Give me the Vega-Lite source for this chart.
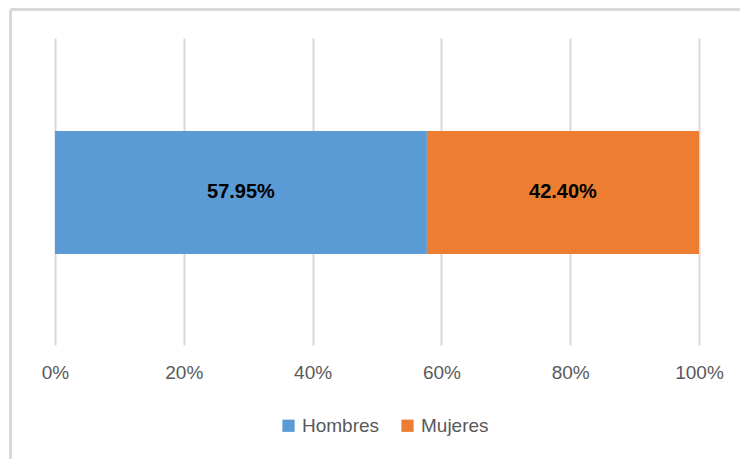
{
  "$schema": "https://vega.github.io/schema/vega-lite/v6.json",
  "width": 730,
  "height": 450,
  "padding": {"left": 10, "top": 9, "right": 0, "bottom": 0},
  "autosize": {"type": "none"},
  "background": "white",
  "config": {"view": {"stroke": null}, "font": "Liberation Sans"},
  "data": {
    "values": [
      {"categoria": "Total", "sexo": "Hombres", "porcentaje": 0.5795},
      {"categoria": "Total", "sexo": "Mujeres", "porcentaje": 0.424}
    ]
  },
  "transform": [
    {"stack": "porcentaje", "groupby": ["categoria"], "offset": "normalize", "sort": [{"field": "sexo", "order": "ascending"}], "as": ["x0", "x1"]},
    {"calculate": "(datum.x0 + datum.x1) / 2", "as": "mid"}
  ],
  "layer": [
    {
      "mark": {"type": "bar"},
      "encoding": {
        "x": {
          "field": "x0", "type": "quantitative",
          "scale": {"domain": [-0.069876, 1.063665], "nice": false, "zero": false},
          "axis": {
            "orient": "bottom", "offset": -114, "values": [0, 0.2, 0.4, 0.6, 0.8, 1], "format": ".0%",
            "domain": false, "grid": false, "ticks": true, "tickSize": -307, "tickColor": "#d9d9d9", "tickWidth": 2,
            "labelFontSize": 19, "labelColor": "#595959", "labelPadding": 325, "labelFont": "Liberation Sans",
            "labelFlush": false, "labelOverlap": false, "title": null
          }
        },
        "x2": {"field": "x1"},
        "y": {
          "field": "categoria", "type": "nominal",
          "scale": {"paddingInner": 0.5, "paddingOuter": 0.665, "align": 0.373},
          "axis": {"orient": "left", "domain": true, "domainColor": "#d9d9d9", "domainWidth": 3, "labels": false, "ticks": false, "grid": false, "title": null}
        },
        "color": {
          "field": "sexo", "type": "nominal",
          "scale": {"domain": ["Hombres", "Mujeres"], "range": ["#5B9BD5", "#ED7D31"]},
          "legend": {
            "orient": "none", "legendX": 269, "legendY": 407, "direction": "horizontal", "title": null,
            "symbolType": "square", "symbolSize": 150, "symbolStrokeWidth": 0,
            "labelFontSize": 19, "labelColor": "#595959", "labelFont": "Liberation Sans",
            "columnPadding": 18, "labelOffset": 4, "padding": 0
          }
        }
      }
    },
    {
      "mark": {"type": "text", "fontWeight": "bold", "fontSize": 20, "color": "black", "font": "Liberation Sans", "baseline": "middle"},
      "encoding": {
        "x": {
          "field": "mid", "type": "quantitative",
          "scale": {"domain": [-0.069876, 1.063665], "nice": false, "zero": false},
          "axis": {"orient": "top", "domain": true, "domainColor": "#d9d9d9", "domainWidth": 3, "labels": false, "ticks": false, "grid": false, "title": null}
        },
        "y": {"field": "categoria", "type": "nominal"},
        "text": {"field": "porcentaje", "type": "quantitative", "format": ".2%"}
      }
    }
  ],
  "resolve": {"axis": {"x": "independent"}}
}
